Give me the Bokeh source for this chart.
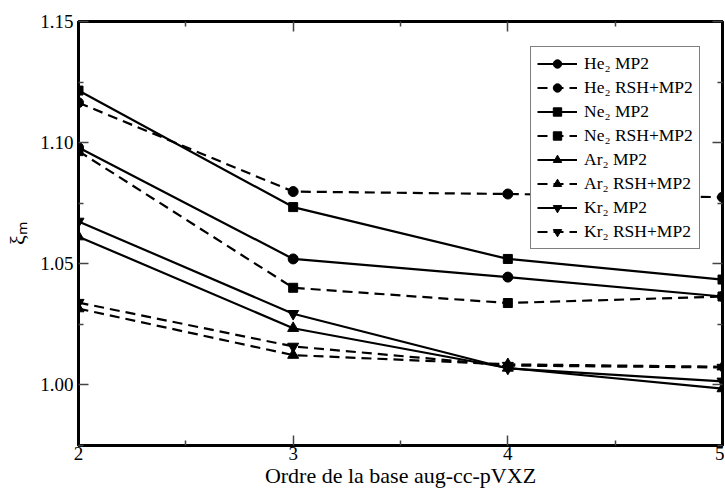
from bokeh.plotting import figure
from bokeh.models import LinearAxis, Range1d, Legend, LegendItem, FixedTicker, CustomJSTickFormatter
from bokeh.embed import file_html
from bokeh.resources import INLINE

basis = [2, 3, 4, 5]
he_mp2 = [1.0980, 1.0520, 1.0445, 1.0365]
he_rsh = [1.1165, 1.0798, 1.0788, 1.0775]
ne_mp2 = [1.1215, 1.0734, 1.0520, 1.0435]
ne_rsh = [1.0965, 1.0401, 1.0338, 1.0365]
ar_mp2 = [1.0612, 1.0234, 1.0070, 0.9985]
ar_rsh = [1.0315, 1.0123, 1.0085, 1.0075]
kr_mp2 = [1.0675, 1.0294, 1.0068, 1.0015]
kr_rsh = [1.0340, 1.0159, 1.0080, 1.0072]

labels = ["He\u2082 MP2", "He\u2082 RSH+MP2", "Ne\u2082 MP2", "Ne\u2082 RSH+MP2",
          "Ar\u2082 MP2", "Ar\u2082 RSH+MP2", "Kr\u2082 MP2", "Kr\u2082 RSH+MP2"]
series = [he_mp2, he_rsh, ne_mp2, ne_rsh, ar_mp2, ar_rsh, kr_mp2, kr_rsh]
markers = ["circle", "circle", "square", "square", "triangle", "triangle",
           "inverted_triangle", "inverted_triangle"]
sizes = [10, 10, 9, 9, 11, 11, 11, 11]
dashes = ["solid", "10 6"] * 4

x_major = [2, 3, 4, 5]
x_minor = [2.5, 3.5, 4.5]
y_major = [1.00, 1.05, 1.10, 1.15]
y_minor = [0.975, 1.025, 1.075, 1.125]

FONT = "Liberation Serif"

p = figure(width=724, height=490, output_backend="svg", toolbar_location=None,
           x_range=Range1d(2, 5), y_range=Range1d(0.975, 1.15),
           min_border_left=78, min_border_right=2, min_border_top=21, min_border_bottom=44)
p.xgrid.visible = False
p.ygrid.visible = False
p.outline_line_color = "black"
p.outline_line_width = 3
p.background_fill_color = "white"

items = []
for lab, ys, mk, sz, dsh in zip(labels, series, markers, sizes, dashes):
    lr = p.line(basis, ys, line_color="black", line_width=2.2, line_dash=dsh)
    sr = p.scatter(basis, ys, marker=mk, size=sz, fill_color="black", line_color="black")
    items.append(LegendItem(label=lab, renderers=[lr, sr]))


def style(ax):
    ax.axis_line_width = 3
    ax.axis_line_color = "black"
    ax.major_tick_in = 10
    ax.major_tick_out = 0
    ax.minor_tick_in = 5
    ax.minor_tick_out = 0
    ax.major_tick_line_width = 1.5
    ax.minor_tick_line_width = 1.5
    ax.major_tick_line_color = "#444444"
    ax.minor_tick_line_color = "#444444"
    ax.major_label_text_font = FONT
    ax.major_label_text_font_size = "19px"
    ax.major_label_text_color = "black"
    ax.axis_label_text_font = FONT
    ax.axis_label_text_font_size = "22px"
    ax.axis_label_text_font_style = "normal"
    ax.axis_label_text_color = "black"


xa = p.xaxis[0]
xa.ticker = FixedTicker(ticks=x_major, minor_ticks=x_minor)
xa.formatter = CustomJSTickFormatter(code="return tick.toFixed(0);")
xa.axis_label = "Ordre de la base aug-cc-pVXZ"
xa.major_label_standoff = 1
xa.axis_label_standoff = 0
style(xa)

ya = p.yaxis[0]
ya.ticker = FixedTicker(ticks=y_major, minor_ticks=y_minor)
ya.formatter = CustomJSTickFormatter(code="return tick.toFixed(2);")
ya.axis_label = "\u03be\u2098"
ya.major_label_standoff = 5
ya.axis_label_standoff = 7
style(ya)

blank = CustomJSTickFormatter(code="return '';")

top = LinearAxis(ticker=FixedTicker(ticks=x_major, minor_ticks=x_minor), formatter=blank)
style(top)
top.major_label_standoff = 0
p.add_layout(top, "above")

right = LinearAxis(ticker=FixedTicker(ticks=y_major, minor_ticks=y_minor), formatter=blank)
style(right)
right.major_label_standoff = 0
p.add_layout(right, "right")

leg = Legend(items=items, location=(452, 196))
leg.label_text_font = FONT
leg.label_text_font_size = "17.5px"
leg.label_text_color = "black"
leg.glyph_width = 40
leg.glyph_height = 21
leg.label_height = 21
leg.spacing = 3
leg.padding = 6
leg.label_standoff = 7
leg.border_line_color = "black"
leg.border_line_width = 1
leg.background_fill_alpha = 1
leg.margin = 0
p.add_layout(leg, "center")

open("out.html", "w").write(file_html(p, INLINE))
